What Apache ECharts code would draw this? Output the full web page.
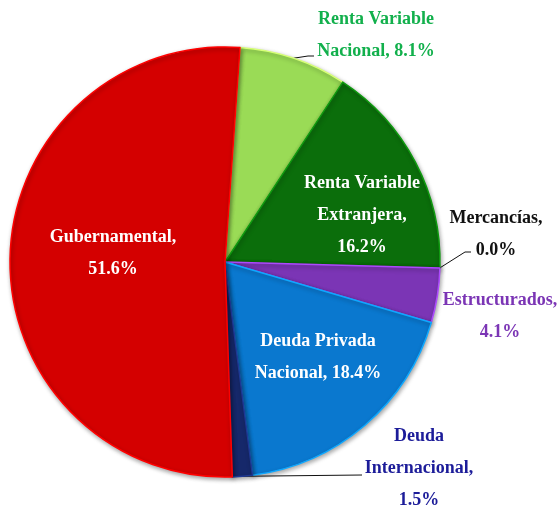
<!DOCTYPE html>
<html>
<head>
<meta charset="utf-8">
<script src="https://cdn.jsdelivr.net/npm/echarts@6/dist/echarts.min.js"></script>
<style>
html, body { margin: 0; padding: 0; background: #fff; }
#main { width: 559px; height: 514px; }
</style>
</head>
<body>
<div id="main"></div>
<script>
// categorias y porcentajes (sentido horario desde arriba)
var categorias = ['Renta Variable\nNacional', 'Renta Variable\nExtranjera', 'Mercancías', 'Estructurados',
    'Deuda Privada\nNacional', 'Deuda\nInternacional', 'Gubernamental'];
var valores = [8.1, 16.2, 0.0, 4.1, 18.4, 1.5, 51.6];
var colores = ['#9ADB56', '#0B6E0B', '#222222', '#7B35B5', '#0A78CF', '#16286A', '#D40000'];
var colorTexto = ['#12B04C', '#ffffff', '#111111', '#7B35B5', '#ffffff', '#1C1C99', '#ffffff'];
var textos = [
    'Renta Variable\nNacional, 8.1%',
    'Renta Variable\nExtranjera,\n16.2%',
    'Mercancías,\n0.0%',
    'Estructurados,\n4.1%',
    'Deuda Privada\nNacional, 18.4%',
    'Deuda\nInternacional,\n1.5%',
    'Gubernamental,\n51.6%'
];
// centro de cada etiqueta
var posEtiqueta = [[376, 35], [362, 215], [496, 234], [500, 316], [318, 357], [419, 468], [113, 253]];
// linea guia: null = sin linea; si no [dx, dy] del punto de union respecto a la etiqueta, y del codo respecto a la union
var guia = [
    {union: [-62, 21], codo: [-6, 0]},
    null,
    {union: [-25, 18], codo: [-6, 0]},
    null,
    null,
    {union: [-57, 7], codo: [0, 0]},
    null
];

var centro = [225, 262], radio = 215, inicio = 86;
var total = valores.reduce(function (a, b) { return a + b; }, 0);

// punto del borde en el angulo medio de cada porcion
function anclaje(i) {
    var acum = 0;
    for (var k = 0; k < i; k++) acum += valores[k];
    var medio = acum + valores[i] / 2;
    var ang = (inicio - 360 * medio / total) * Math.PI / 180;
    return [centro[0] + radio * Math.cos(ang), centro[1] - radio * Math.sin(ang)];
}

var myChart = echarts.init(document.getElementById('main'));

var datos = categorias.map(function (n, i) {
    return {
        name: n,
        value: valores[i],
        itemStyle: {
            color: colores[i],
            borderColor: echarts.color.lift(colores[i], -0.4),
            borderWidth: 1.5
        },
        label: {
            color: colorTexto[i],
            formatter: textos[i]
        },
        labelLine: { show: guia[i] !== null }
    };
});

var option = {
    backgroundColor: '#ffffff',
    animation: false,
    series: [{
        type: 'pie',
        center: centro,
        radius: radio,
        startAngle: inicio,
        clockwise: true,
        avoidLabelOverlap: false,
        minShowLabelAngle: 0,
        label: {
            show: true,
            position: 'outside',
            fontFamily: 'Liberation Serif',
            fontWeight: 'bold',
            fontSize: 18,
            lineHeight: 32,
            align: 'center'
        },
        labelLine: {
            show: true,
            length: 10,
            length2: 14,
            lineStyle: { color: '#111', width: 1 }
        },
        labelLayout: function (p) {
            var i = p.dataIndex;
            var pt = posEtiqueta[i];
            var res = { x: pt[0], y: pt[1], align: 'center', verticalAlign: 'middle' };
            var g = guia[i];
            if (g) {
                var u = [pt[0] + g.union[0], pt[1] + g.union[1]];
                var c = [u[0] + g.codo[0], u[1] + g.codo[1]];
                res.labelLinePoints = [anclaje(i), c, u];
            }
            return res;
        },
        itemStyle: {
            shadowBlur: 4,
            shadowColor: 'rgba(0,0,0,0.35)',
            shadowOffsetX: 1,
            shadowOffsetY: 2
        },
        data: datos
    }]
};
myChart.setOption(option);
</script>
</body>
</html>
